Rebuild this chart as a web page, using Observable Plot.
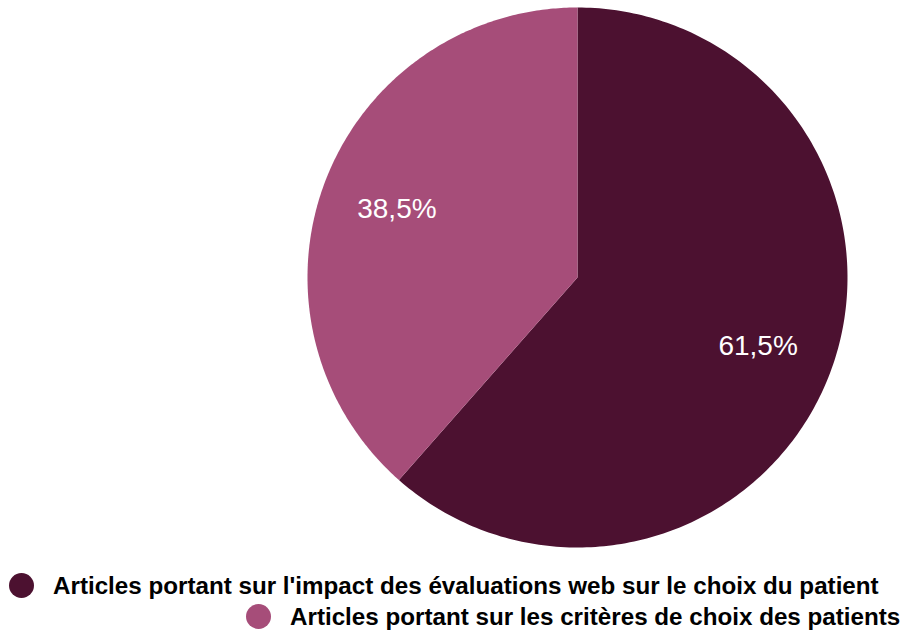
<!DOCTYPE html>
<html>
<head>
<meta charset="utf-8">
<script src="https://cdn.jsdelivr.net/npm/d3@7"></script>
<script src="https://cdn.jsdelivr.net/npm/@observablehq/plot@0.6"></script>
<style>
  html, body { margin: 0; padding: 0; background: #fff; }
  body { width: 901px; height: 630px; overflow: hidden; font-family: "Liberation Sans", Arial, sans-serif; }
  .legend { margin-top: 15px; }
  .row { display: flex; align-items: center; height: 31px; font-weight: bold; font-size: 24.2px; color: #000; white-space: nowrap; }
  .sw { width: 25px; height: 25px; border-radius: 50%; margin-right: 19px; flex: none; }
</style>
</head>
<body>
<div id="chart"></div>
<script>
const categories = [
  "Articles portant sur l'impact des évaluations web sur le choix du patient",
  "Articles portant sur les critères de choix des patients"
];
const values = [61.5, 38.5];
const valueLabels = ["61,5%", "38,5%"];
const colors = ["#4c1130", "#a64d79"];
const legendOffsets = [9, 246];

const arcs = d3.pie().sort(null)(values);
const pts = [];
const labelPts = [];
arcs.forEach((a, i) => {
  const cat = categories[i];
  pts.push({cat, x: 0, y: 0});
  const n = 240;
  for (let k = 0; k <= n; k++) {
    const t = a.startAngle + (a.endAngle - a.startAngle) * k / n;
    pts.push({cat, x: Math.sin(t), y: Math.cos(t)});
  }
  pts.push({cat, x: 0, y: 0});
  const mid = (a.startAngle + a.endAngle) / 2;
  labelPts.push({cat, label: valueLabels[i], x: 0.715 * Math.sin(mid), y: 0.715 * Math.cos(mid)});
});

const chart = Plot.plot({
  width: 901,
  height: 555,
  margin: 0,
  x: {domain: [-1, 1], range: [307, 847], axis: null},
  y: {domain: [-1, 1], range: [547, 7], axis: null},
  color: {domain: categories, range: colors},
  marks: [
    Plot.line(pts, {x: "x", y: "y", z: "cat", fill: "cat", stroke: "none", curve: "linear"}),
    Plot.text(labelPts, {x: "x", y: "y", text: "label", fill: "white", fontSize: 28, fontFamily: "Liberation Sans, Arial, sans-serif"})
  ]
});
document.getElementById("chart").appendChild(chart);

const legend = document.createElement("div");
legend.className = "legend";
categories.forEach((c, i) => {
  const row = document.createElement("div");
  row.className = "row";
  row.style.marginLeft = legendOffsets[i] + "px";
  const sw = document.createElement("span");
  sw.className = "sw";
  sw.style.background = colors[i];
  const tx = document.createElement("span");
  tx.textContent = c;
  row.appendChild(sw);
  row.appendChild(tx);
  legend.appendChild(row);
});
document.body.appendChild(legend);
</script>
</body>
</html>
